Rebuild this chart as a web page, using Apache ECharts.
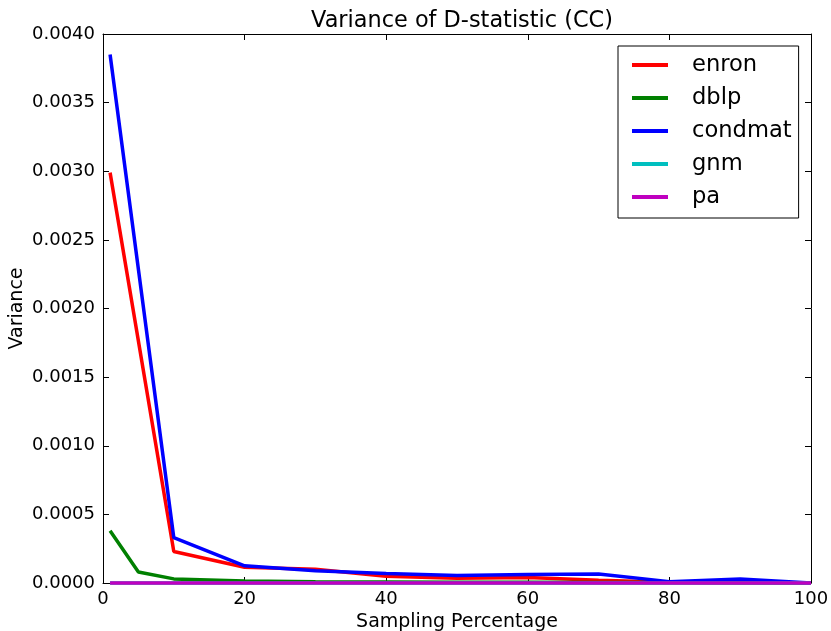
<!DOCTYPE html>
<html><head><meta charset="utf-8">
<script src="https://cdn.jsdelivr.net/npm/echarts@6/dist/echarts.min.js"></script>
<style>html,body{margin:0;padding:0;background:#fff}#c{width:831px;height:631px}</style>
</head><body><div id="c"></div>
<script>
const seriesNames = ['enron', 'dblp', 'condmat', 'gnm', 'pa'];
const xAll = [1, 5, 10, 20, 30, 40, 50, 60, 70, 80, 90, 100];
const xNo5 = [1, 10, 20, 30, 40, 50, 60, 70, 80, 90, 100];
const enron   = [0.00299, 0.00023, 0.000115, 0.0001, 0.00005, 0.000035, 0.00004, 0.00002, 0.000005, 0.000002, 0.0];
const dblp    = [0.00038, 0.00008, 0.00003, 0.000015, 0.00001, 0.000008, 0.000006, 0.000005, 0.000004, 0.000003, 0.000002, 0.0];
const condmat = [0.00385, 0.00033, 0.000125, 0.00009, 0.00007, 0.000055, 0.000062, 0.000065, 0.00001, 0.00003, 0.0];
const gnm     = [0, 0, 0, 0, 0, 0, 0, 0, 0, 0, 0, 0];
const pa      = [0, 0, 0, 0, 0, 0, 0, 0, 0, 0, 0, 0];
const colors = ['#ff0000', '#008000', '#0000ff', '#00bfbf', '#bf00bf'];

const pairs = (xs, ys) => xs.map((x, i) => [x, ys[i]]);
const dataSets = [pairs(xNo5, enron), pairs(xAll, dblp), pairs(xNo5, condmat), pairs(xAll, gnm), pairs(xAll, pa)];

const font = 'DejaVu Sans';
const chart = echarts.init(document.getElementById('c'), null, {renderer: 'canvas'});
const axisCommon = () => ({
  axisLine: {show: true, onZero: false, lineStyle: {color: '#000', width: 1}},
  axisTick: {show: true, inside: true, length: 6, lineStyle: {color: '#000'}},
  splitLine: {show: false}
});
chart.setOption({
  animation: false,
  backgroundColor: '#fff',
  color: colors,
  title: {
    text: 'Variance of D-statistic (CC)', left: 457, top: 5, textAlign: 'center',
    textStyle: {fontFamily: font, fontSize: 22.4, fontWeight: 'normal', color: '#000'}
  },
  grid: {left: 103, right: 20, top: 34, bottom: 48, containLabel: false, outerBoundsMode: 'none'},
  legend: {
    orient: 'vertical', left: 618, top: 46,
    padding: [7, 7, 9, 14],
    borderColor: '#000', borderWidth: 1, backgroundColor: '#fff',
    icon: 'rect', itemWidth: 36, itemHeight: 4, itemGap: 9,
    textStyle: {fontFamily: font, fontSize: 22.6, color: '#000', padding: [0, 0, 0, 19], lineHeight: 24},
    data: seriesNames
  },
  xAxis: [
    Object.assign({type: 'value', min: 0, max: 100, interval: 20, position: 'bottom',
      name: 'Sampling Percentage', nameLocation: 'middle', nameGap: 30, nameMoveOverlap: false,
      nameTextStyle: {fontFamily: font, fontSize: 19, color: '#000'},
      axisLabel: {fontFamily: font, fontSize: 18, color: '#000', margin: 7}}, axisCommon()),
    Object.assign({type: 'value', min: 0, max: 100, interval: 20, position: 'top',
      axisLabel: {show: false}}, axisCommon())
  ],
  yAxis: [
    Object.assign({type: 'value', min: 0, max: 0.004, interval: 0.0005, position: 'left',
      name: 'Variance', nameLocation: 'middle', nameGap: 76, nameRotate: 90, nameMoveOverlap: false,
      nameTextStyle: {fontFamily: font, fontSize: 19, color: '#000'},
      axisLabel: {fontFamily: font, fontSize: 18, color: '#000', margin: 8,
        formatter: v => v.toFixed(4)}}, axisCommon()),
    Object.assign({type: 'value', min: 0, max: 0.004, interval: 0.0005, position: 'right',
      axisLabel: {show: false}}, axisCommon())
  ],
  series: seriesNames.map((n, i) => ({
    name: n, type: 'line', data: dataSets[i], symbol: 'none', showSymbol: false,
    lineStyle: {width: 3.5, color: colors[i]}, itemStyle: {color: colors[i]},
    clip: false, z: 2 + i
  }))
});
</script></body></html>
